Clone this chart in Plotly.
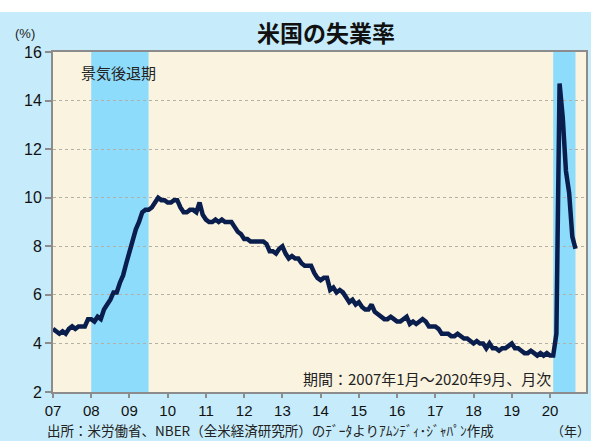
import plotly.graph_objects as go

# ---- data ----
start_year = 2007
unemployment = [
    4.6, 4.5, 4.4, 4.5, 4.4, 4.6, 4.7, 4.6, 4.7, 4.7, 4.7, 5.0,   # 2007
    5.0, 4.9, 5.1, 5.0, 5.4, 5.6, 5.8, 6.1, 6.1, 6.5, 6.8, 7.3,   # 2008
    7.8, 8.3, 8.7, 9.0, 9.4, 9.5, 9.5, 9.6, 9.8, 10.0, 9.9, 9.9,  # 2009
    9.8, 9.8, 9.9, 9.9, 9.6, 9.4, 9.4, 9.5, 9.5, 9.4, 9.8, 9.3,   # 2010
    9.1, 9.0, 9.0, 9.1, 9.0, 9.1, 9.0, 9.0, 9.0, 8.8, 8.6, 8.5,   # 2011
    8.3, 8.3, 8.2, 8.2, 8.2, 8.2, 8.2, 8.1, 7.8, 7.8, 7.7, 7.9,   # 2012
    8.0, 7.7, 7.5, 7.6, 7.5, 7.5, 7.3, 7.2, 7.2, 7.2, 6.9, 6.7,   # 2013
    6.6, 6.7, 6.7, 6.2, 6.3, 6.1, 6.2, 6.1, 5.9, 5.7, 5.8, 5.6,   # 2014
    5.7, 5.5, 5.4, 5.4, 5.6, 5.3, 5.2, 5.1, 5.0, 5.0, 5.1, 5.0,   # 2015
    4.9, 4.9, 5.0, 5.1, 4.8, 4.9, 4.8, 4.9, 5.0, 4.9, 4.7, 4.7,   # 2016
    4.7, 4.6, 4.4, 4.4, 4.4, 4.3, 4.3, 4.4, 4.3, 4.2, 4.2, 4.1,   # 2017
    4.0, 4.1, 4.0, 4.0, 3.8, 4.0, 3.8, 3.8, 3.7, 3.8, 3.8, 3.9,   # 2018
    4.0, 3.8, 3.8, 3.7, 3.6, 3.6, 3.7, 3.6, 3.5, 3.6, 3.5, 3.6,   # 2019
    3.5, 3.5, 4.4, 14.7, 13.3, 11.1, 10.2, 8.4, 7.9,              # 2020
]
recession_start = [2008.0, 2020.0 + 1 / 12]
recession_end = [2009.5, 2020.0 + 8 / 12]
tick_years = list(range(2007, 2021))
tick_labels = ["07", "08", "09", "10", "11", "12", "13", "14", "15", "16", "17", "18", "19", "20"]

x_vals = [start_year + i / 12 for i in range(len(unemployment))]

FONT = "Arial, 'Liberation Sans', 'Noto Sans CJK JP', sans-serif"
JP = "'MS PGothic', 'Noto Sans CJK JP', sans-serif"
BG = "#C6ECFB"

L, R, T, B = 53, 586, 52, 392
PW, PH = R - L, B - T


def px(x):
    return (x - L) / PW


def py(y):
    return (B - y) / PH


fig = go.Figure()
fig.add_trace(go.Scatter(
    x=x_vals, y=unemployment, mode="lines",
    line=dict(color="#0A1E4E", width=4.5),
    hoverinfo="skip", showlegend=False,
))

shapes = []
# white top strip
shapes.append(dict(type="rect", xref="paper", yref="paper",
                   x0=-0.2, x1=1.2, y0=py(12), y1=py(-20),
                   fillcolor="white", line=dict(width=0), layer="above"))
for s, e in zip(recession_start, recession_end):
    shapes.append(dict(type="rect", xref="x", yref="paper", x0=s, x1=e, y0=0, y1=1,
                       fillcolor="#8EDCFC", line=dict(width=0), layer="below"))

annotations = [
    dict(text="(%)", xref="paper", yref="paper", x=px(25), y=py(34),
         showarrow=False, font=dict(family=FONT, size=13, color="#222"), xanchor="center", yanchor="middle"),
    dict(text="景気後退期", xref="paper", yref="paper", x=px(79), y=py(72),
         showarrow=False, font=dict(family=JP, size=15, color="#222"), xanchor="left", yanchor="middle"),
    dict(text="期間：2007年1月～2020年9月、月次", xref="paper", yref="paper", x=px(553), y=py(378),
         showarrow=False, font=dict(family=JP, size=15, color="#222"), xanchor="right", yanchor="middle"),
    dict(text="出所：米労働省、NBER（全米経済研究所）のﾃﾞｰﾀよりｱﾑﾝﾃﾞｨ･ｼﾞｬﾊﾟﾝ作成", xref="paper", yref="paper",
         x=px(45), y=py(430),
         showarrow=False, font=dict(family=JP, size=13.5, color="#222"), xanchor="left", yanchor="middle"),
    dict(text="（年）", xref="paper", yref="paper", x=px(592), y=py(430),
         showarrow=False, font=dict(family=JP, size=13, color="#222"), xanchor="right", yanchor="middle"),
]

fig.update_layout(
    width=591, height=441,
    margin=dict(l=L, r=591 - R, t=T, b=441 - B, autoexpand=False),
    paper_bgcolor=BG, plot_bgcolor="#FAF3E0",
    title=dict(text="<b>米国の失業率</b>", x=326 / 591, xanchor="center", y=1 - 34 / 441, yanchor="middle",
               font=dict(family=JP, size=23, color="#111")),
    shapes=shapes, annotations=annotations,
    xaxis=dict(range=[2007, 2020 + (R - 550) / 38.25], tickmode="array", tickvals=tick_years, ticktext=tick_labels,
               showgrid=False, zeroline=False, showline=True, linecolor="#8C8C8C", linewidth=2, mirror=True,
               ticks="outside", ticklen=4, tickwidth=2, tickcolor="#8C8C8C", automargin=False,
               tickfont=dict(family=FONT, size=15, color="#111")),
    yaxis=dict(range=[2, 16], dtick=2, tick0=2, showgrid=True, gridcolor="#B5B0A5", griddash="dot", gridwidth=1,
               zeroline=False, showline=True, linecolor="#8C8C8C", linewidth=2, mirror=True,
               ticks="outside", ticklen=6, tickwidth=2, tickcolor="#8C8C8C", automargin=False,
               tickfont=dict(family=FONT, size=16, color="#111")),
)

fig.write_html("out.html", config={"displayModeBar": False},
               post_script="document.body.style.margin='0';document.body.style.overflow='hidden';")
